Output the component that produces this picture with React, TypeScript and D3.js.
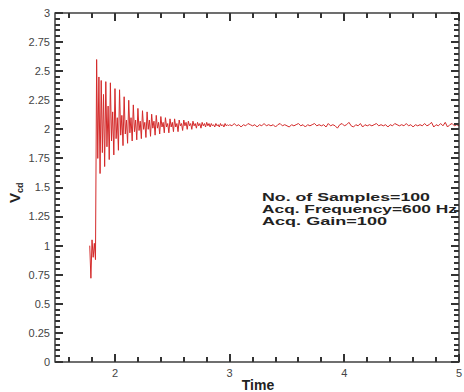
import React from "react";
import * as d3 from "d3";

// sample spacing and start time of each recorded segment
const transientStart = 1.78;
const transientStep = 0.01;
const transientValues = [
  1.0, 0.72, 1.05, 0.9, 1.02, 0.88, 2.6, 1.75, 2.45, 1.62,
  2.42, 1.8, 2.3, 1.68, 2.41, 1.85, 2.2, 1.74, 2.4, 1.9,
  2.15, 1.78, 2.35, 1.92, 2.1, 1.82, 2.34, 1.95, 2.12, 1.86,
  2.28, 1.96, 2.08, 1.88, 2.25, 1.97, 2.1, 1.9, 2.21, 1.98,
  2.08, 1.91, 2.18, 1.99, 2.07, 1.92, 2.16, 2.0, 2.06, 1.93,
  2.15, 2.0, 2.08, 1.94, 2.13, 2.01, 2.07, 1.95, 2.12, 2.01,
  2.06, 1.96, 2.11, 2.02, 2.06, 1.97, 2.1, 2.02, 2.05, 1.97,
  2.09, 2.02, 2.06, 1.98, 2.09, 2.02, 2.05, 1.98, 2.08, 2.03,
  2.05, 1.99, 2.08, 2.03, 2.06, 2.0, 2.07, 2.03, 2.05, 2.0,
  2.07, 2.03, 2.05, 2.01, 2.06, 2.03, 2.05, 2.01, 2.06, 2.03,
  2.05, 2.02, 2.06, 2.03, 2.05, 2.02, 2.05, 2.03, 2.04, 2.02,
  2.05, 2.03, 2.04, 2.02, 2.05, 2.03, 2.04, 2.02, 2.05, 2.03,
  2.04, 2.03,
];
const steadyStart = 3.0;
const steadyStep = 0.02;
const steadyValues = [
  2.04, 2.03, 2.05, 2.03, 2.04, 2.02, 2.04, 2.03, 2.05, 2.04,
  2.03, 2.04, 2.02, 2.04, 2.03, 2.05, 2.03, 2.04, 2.03, 2.04,
  2.02, 2.04, 2.05, 2.03, 2.04, 2.03, 2.02, 2.04, 2.03, 2.04,
  2.05, 2.03, 2.04, 2.02, 2.04, 2.03, 2.04, 2.05, 2.03, 2.04,
  2.03, 2.04, 2.02, 2.05, 2.03, 2.04, 2.03, 2.01, 2.04, 2.05,
  2.03, 2.04, 2.06, 2.03, 2.02, 2.04, 2.03, 2.05, 2.02, 2.04,
  2.03, 2.04, 2.03, 2.04, 2.05, 2.03, 2.04, 2.03, 2.04, 2.02,
  2.04, 2.03, 2.05, 2.04, 2.03, 2.04, 2.03, 2.05, 2.03, 2.04,
  2.02, 2.04, 2.03, 2.04, 2.03, 2.05, 2.03, 2.04, 2.06, 2.02,
  2.04, 2.03, 2.05, 2.03, 2.06, 2.02, 2.04, 2.05, 2.03, 2.04,
  2.03,
];

const xMajorTicks = [2, 3, 4, 5];
const xMinorTicks = d3.range(1.6, 5.0001, 0.2);
const yMajorTicks = d3.range(0, 3.0001, 0.25);
const yMinorTicks = d3.range(0, 3.0001, 0.05);
const yTickLabels = ["0", "0.25", "0.5", "0.75", "1", "1.25", "1.5", "1.75", "2", "2.25", "2.5", "2.75", "3"];
const xTickLabels = ["2", "3", "4", "5"];
const annotationLines = ["No. of Samples=100", "Acq. Frequency=600 Hz", "Acq. Gain=100"];

const W = 464;
const H = 392;
const plot = { left: 55, right: 459, top: 13, bottom: 362 };

export default function App() {
  const x = d3.scaleLinear().domain([1.477, 5]).range([plot.left, plot.right]);
  const y = d3.scaleLinear().domain([0, 3]).range([plot.bottom, plot.top]);

  const points: [number, number][] = [
    ...transientValues.map((v, i) => [transientStart + i * transientStep, v] as [number, number]),
    ...steadyValues.map((v, i) => [steadyStart + i * steadyStep, v] as [number, number]),
  ];
  const lineGen = d3
    .line<[number, number]>()
    .x((d) => x(d[0]))
    .y((d) => y(d[1]));

  const axisColor = "#222";
  const majLen = 8;
  const minLen = 5;
  const isMajorX = (t: number) => xMajorTicks.some((m) => Math.abs(m - t) < 1e-6);
  const isMajorY = (t: number) => yMajorTicks.some((m) => Math.abs(m - t) < 1e-6);

  const tickRects: { x: number; y: number; w: number; h: number }[] = [];
  xMinorTicks.forEach((t) => {
    const len = isMajorX(t) ? majLen : minLen;
    const px = Math.round(x(t)) - 1;
    tickRects.push({ x: px, y: plot.bottom - len, w: 2, h: len });
    tickRects.push({ x: px, y: plot.top, w: 2, h: len });
  });
  yMinorTicks.forEach((t) => {
    const len = isMajorY(t) ? majLen : minLen;
    const py = Math.round(y(t)) - 1;
    tickRects.push({ x: plot.left, y: py, w: len, h: 2 });
    tickRects.push({ x: plot.right - len, y: py, w: len, h: 2 });
  });

  return (
    <svg
      width={W}
      height={H}
      style={{ position: "absolute", left: 0, top: 0 }}
      fontFamily="Liberation Sans, Arial, sans-serif"
    >
      <rect x={0} y={0} width={W} height={H} fill="#fff" />
      {/* data */}
      <path d={lineGen(points) || ""} fill="none" stroke="#d42a2a" strokeWidth={1} />

      {/* frame */}
      <rect
        x={plot.left}
        y={plot.top}
        width={plot.right - plot.left}
        height={plot.bottom - plot.top}
        fill="none"
        stroke={axisColor}
        strokeWidth={1.3}
      />

      {/* ticks */}
      {tickRects.map((r, i) => (
        <rect key={"tk" + i} x={r.x} y={r.y} width={r.w} height={r.h} fill="#333" />
      ))}

      {/* y tick labels */}
      {yMajorTicks.map((t, i) => (
        <text
          key={"yl" + i}
          x={plot.left - 5}
          y={y(t)}
          dy="0.35em"
          textAnchor="end"
          fontSize={11}
          fill="#444"
        >
          {yTickLabels[i]}
        </text>
      ))}
      {/* x tick labels */}
      {xMajorTicks.map((t, i) => (
        <text key={"xl" + i} x={x(t)} y={377} textAnchor="middle" fontSize={11} fill="#444">
          {xTickLabels[i]}
        </text>
      ))}

      {/* axis titles */}
      <text x={258} y={390} textAnchor="middle" fontSize={14} fontWeight="bold" fill="#222">
        Time
      </text>
      <text transform="translate(20,203) rotate(-90)" fontSize={15} fontWeight="bold" fill="#222">
        V
        <tspan fontSize={9} dy={3}>
          cd
        </tspan>
      </text>

      {/* annotation */}
      {annotationLines.map((s, i) => (
        <text
          key={"an" + i}
          x={262}
          y={201 + i * 12}
          fontSize={11}
          fontWeight="bold"
          fill="#222"
          textLength={[168, 195, 125][i]}
          lengthAdjust="spacingAndGlyphs"
        >
          {s}
        </text>
      ))}
    </svg>
  );
}
